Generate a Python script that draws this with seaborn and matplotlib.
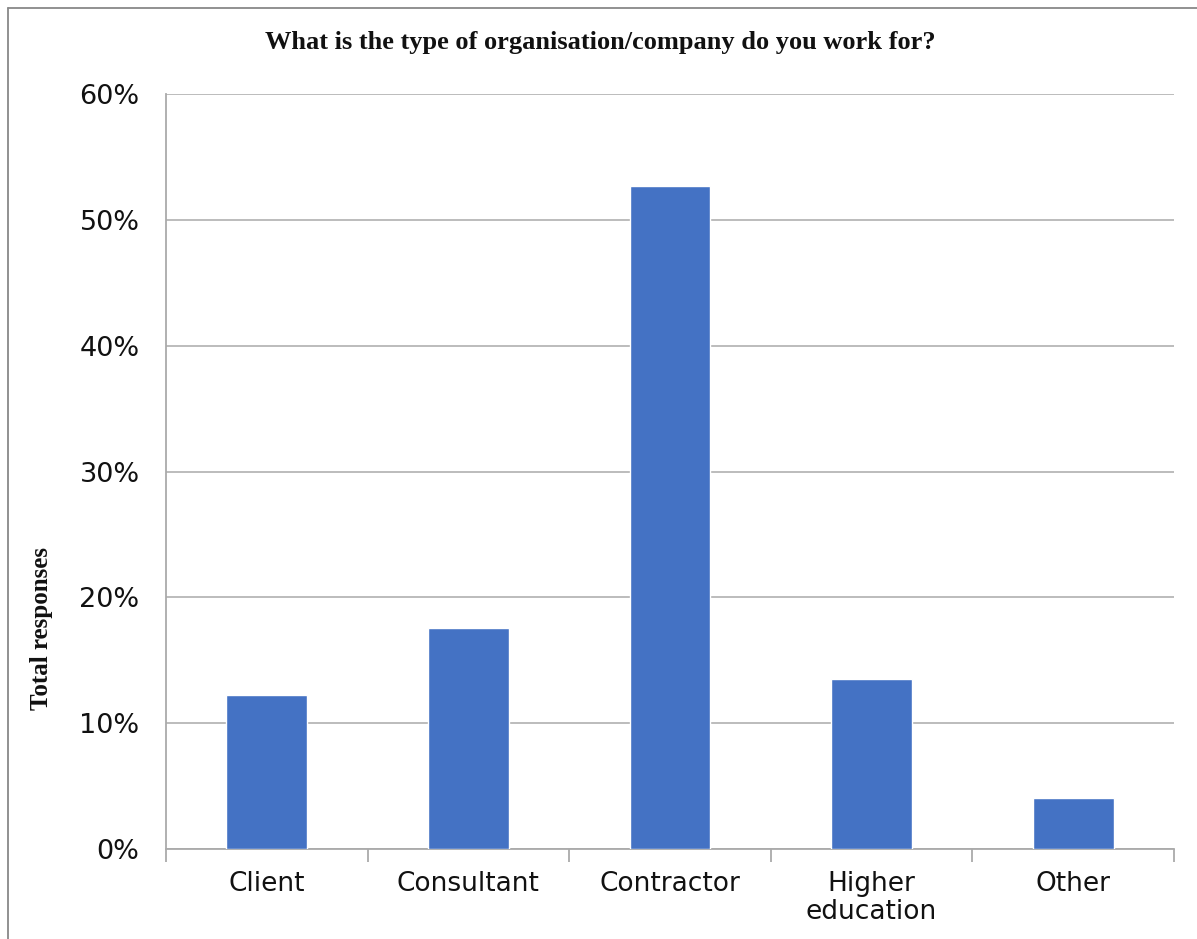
import matplotlib
matplotlib.use('Agg')
import matplotlib.pyplot as plt
import pandas as pd
import seaborn as sns
from matplotlib.ticker import PercentFormatter, FixedLocator
from matplotlib.lines import Line2D

# Data
categories = ['Client', 'Consultant', 'Contractor', 'Higher\neducation', 'Other']
shares = [12.2, 17.6, 52.7, 13.5, 4.05]
y_ticks = [0, 10, 20, 30, 40, 50, 60]

df = pd.DataFrame({'category': categories, 'share': shares})

sns.set_theme(style='white')
plt.rcParams['font.family'] = ['DejaVu Sans']

fig = plt.figure(figsize=(11.97, 9.39), dpi=100)
ax = fig.add_axes([166 / 1197, 1 - 849 / 939, (1174 - 166) / 1197, (849 - 94) / 939])

sns.barplot(data=df, x='category', y='share', color='#4472C4', width=0.4,
            saturation=1, ax=ax, zorder=3)

ax.set_ylim(0, 60)
ax.set_xlim(-0.5, len(categories) - 0.5)
ax.set_yticks(y_ticks)
ax.yaxis.set_major_formatter(PercentFormatter(decimals=0))
ax.grid(axis='y', color='#aaaaaa', linewidth=1.1, zorder=0)
ax.set_axisbelow(True)

# spines like the original: only left and bottom
for side in ['top', 'right']:
    ax.spines[side].set_visible(False)
for side in ['left', 'bottom']:
    ax.spines[side].set_color('#aaaaaa')
    ax.spines[side].set_linewidth(1.3)

# category boundary ticks on x axis
ax.xaxis.set_minor_locator(FixedLocator([i - 0.5 for i in range(len(categories) + 1)]))
ax.tick_params(axis='x', which='major', length=0, pad=16, labelsize=19, labelcolor='#111111')
ax.tick_params(axis='x', which='minor', bottom=True, length=9, width=1.3, color='#aaaaaa')
ax.tick_params(axis='y', length=0, pad=19, labelsize=19.5, labelcolor='#111111')
for lbl in ax.get_xticklabels():
    lbl.set_linespacing(1.08)
    lbl.set_verticalalignment('top')

ax.set_xlabel('')
ax.set_ylabel('')

fig.text(600 / 1197, 1 - 42 / 939, 'What is the type of organisation/company do you work for?',
         ha='center', va='center', fontsize=19, fontweight='bold',
         family='Liberation Serif', color='#111111')
fig.text(42 / 1197, 1 - 629 / 939, 'Total responses', rotation=90,
         ha='center', va='center', fontsize=18, fontweight='bold',
         family='Liberation Serif', color='#111111')

# outer chart frame (top and left edges visible)
fig.add_artist(Line2D([8 / 1197, 1.0], [1 - 8 / 939, 1 - 8 / 939], transform=fig.transFigure,
                      color='#888888', linewidth=1.3))
fig.add_artist(Line2D([8 / 1197, 8 / 1197], [0.0, 1 - 8 / 939], transform=fig.transFigure,
                      color='#888888', linewidth=1.3))

fig.savefig('out.png', dpi=100)
